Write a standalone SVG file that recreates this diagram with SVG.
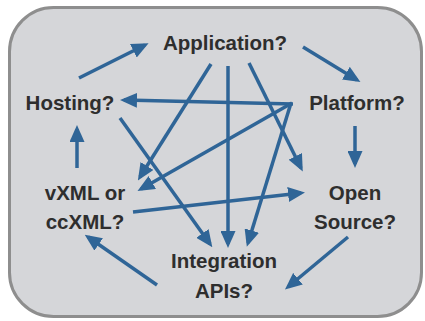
<svg xmlns="http://www.w3.org/2000/svg" width="425" height="321" viewBox="0 0 425 321">
<style>
.lbl{font-family:"Liberation Sans",Arial,sans-serif;font-weight:bold;font-size:20.5px;fill:#2e2e2e;text-anchor:middle}
.c{stroke:#2f6597;stroke-width:3.5;fill:none;marker-end:url(#ah)}
</style>
<defs>
<marker id="ah" markerUnits="userSpaceOnUse" viewBox="0 0 17 15" markerWidth="17" markerHeight="15" refX="13" refY="7.5" orient="auto">
<path d="M0,0 L17,7.5 L0,15 z" fill="#2f6597"/>
</marker>
</defs>
<rect x="9.5" y="7.5" width="412" height="309" rx="44" fill="#d5d6d9" stroke="#8e8e8e" stroke-width="3"/>
<g id="connectors">
<line class="c" x1="79" y1="78" x2="145" y2="45"/>
<line class="c" x1="303" y1="47" x2="357" y2="80"/>
<line class="c" x1="293" y1="104" x2="124" y2="100"/>
<line class="c" x1="292" y1="103" x2="141" y2="189"/>
<line class="c" x1="291" y1="103" x2="248" y2="243"/>
<line class="c" x1="211" y1="64" x2="140" y2="177"/>
<line class="c" x1="228" y1="66" x2="228" y2="244"/>
<line class="c" x1="249" y1="63" x2="301" y2="168"/>
<line class="c" x1="120" y1="118" x2="210" y2="244"/>
<line class="c" x1="133" y1="212" x2="301" y2="193"/>
<line class="c" x1="77" y1="168" x2="77" y2="129"/>
<line class="c" x1="355" y1="126" x2="355" y2="164"/>
<line class="c" x1="348" y1="237" x2="288" y2="287"/>
<line class="c" x1="157" y1="285" x2="88" y2="237"/>
</g>
<g id="application"><text class="lbl" x="225" y="50">Application?</text></g>
<g id="hosting"><text class="lbl" x="70" y="110">Hosting?</text></g>
<g id="platform"><text class="lbl" x="357" y="110">Platform?</text></g>
<g id="vxml"><text class="lbl" x="85" y="200">vXML or</text><text class="lbl" x="85" y="229">ccXML?</text></g>
<g id="opensource"><text class="lbl" x="355" y="200">Open</text><text class="lbl" x="355" y="229">Source?</text></g>
<g id="integration"><text class="lbl" x="224" y="268">Integration</text><text class="lbl" x="224" y="298">APIs?</text></g>
</svg>
